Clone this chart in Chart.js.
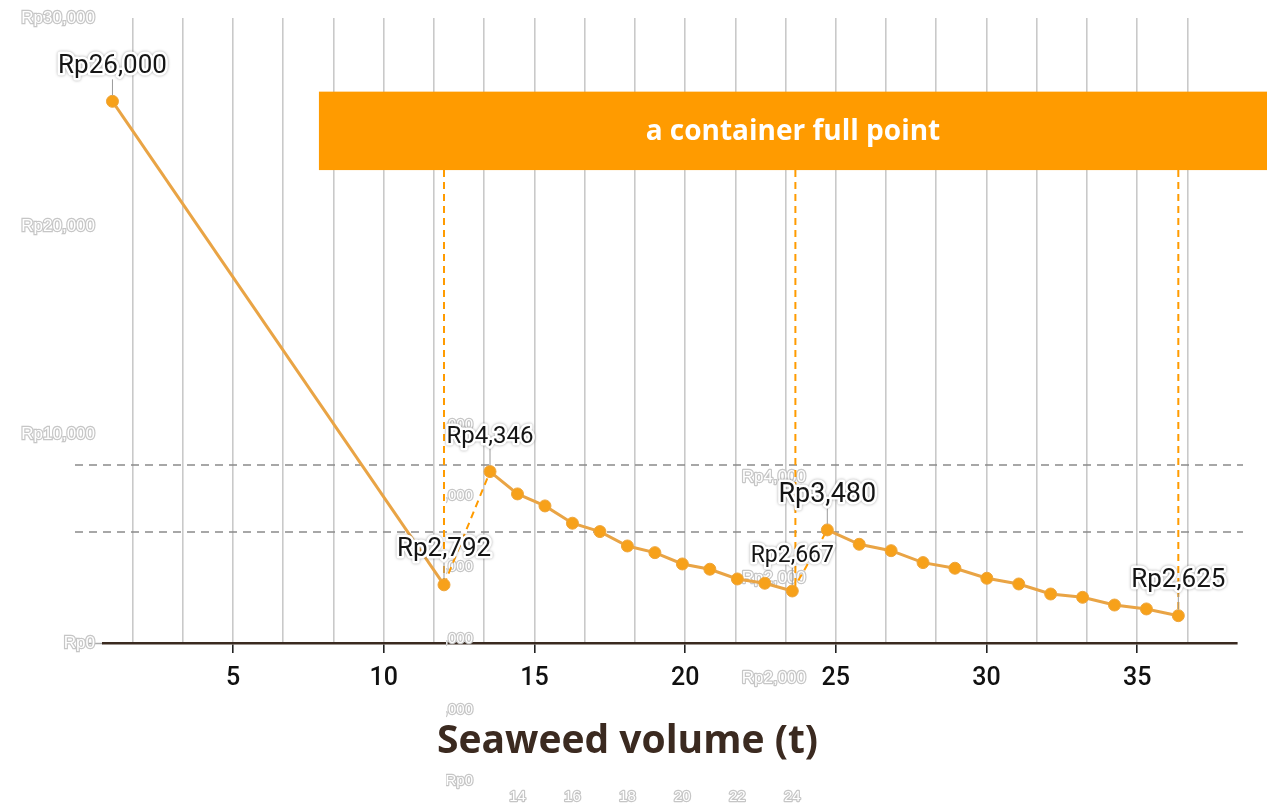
<!DOCTYPE html>
<html><head><meta charset="utf-8">
<script src="https://cdn.jsdelivr.net/npm/chart.js@4.4.1/dist/chart.umd.min.js"></script>
<style>html,body{margin:0;padding:0;background:#fff;}#wrap{width:1267px;height:803px;}</style>
</head><body><div id="wrap"><canvas id="c" width="1267" height="803"></canvas></div>
<script>
// ---------- data ----------
const firstVolumes = [1, 12];
const firstCosts = [26000, 2792];
const secondVolumes = [13, 14, 15, 16, 17, 18, 19, 20, 21, 22, 23, 24];
const secondCosts = [4346, 4032, 3863, 3620, 3502, 3300, 3206, 3047, 2973, 2836, 2776, 2667];
const thirdVolumes = [25, 26, 27, 28, 29, 30, 31, 32, 33, 34, 35, 36];
const thirdCosts = [3480, 3337, 3273, 3154, 3098, 2998, 2941, 2841, 2808, 2731, 2692, 2625];
const containerFullVolumes = [12, 24, 36];
const mainXTickEvery = 5;
const mainYTicks = [0, 10000, 20000, 30000];
const secondYTicks = [0, 1000, 2000, 3000, 4000, 5000];
const secondXTicks = [14, 16, 18, 20, 22, 24];
const thirdYTicks = [2000, 4000];
const extraGhostYTicks = [2000];
const referenceCosts = [4440, 3495];
const bannerText = 'a container full point';
const axisTitle = 'Seaweed volume (t)';

const rp = v => 'Rp' + Math.round(v).toLocaleString('en-US');
const pts = (xs, ys) => xs.map((x, i) => ({x, y: ys[i]}));

const ORANGE = '#ff9b00';
const LINE = '#e9a445';
const PT = '#f7a11a';
const GHOST = '#c6c6c6';

function ghost(ctx, text, x, y, align, size) {
  ctx.save();
  ctx.font = size + 'px "Liberation Sans", Arial, sans-serif';
  ctx.textAlign = align; ctx.textBaseline = 'middle';
  ctx.lineJoin = 'round';
  ctx.lineWidth = 2.4; ctx.strokeStyle = GHOST;
  ctx.strokeText(text, x, y);
  ctx.fillStyle = '#fff';
  ctx.fillText(text, x, y);
  ctx.restore();
}

const overlay = {
  id: 'overlay',
  beforeDatasetsDraw(chart) {
    const {ctx, scales: s, chartArea: a} = chart;
    // reference dashed lines
    ctx.save();
    ctx.strokeStyle = '#8a8a8a'; ctx.lineWidth = 1.5; ctx.setLineDash([8, 6]);
    referenceCosts.forEach(v => {
      const y = s.y2.getPixelForValue(v);
      ctx.beginPath(); ctx.moveTo(a.left - 28, y); ctx.lineTo(a.right + 6, y); ctx.stroke();
    });
    ctx.restore();
    // ghost labels of the zoomed segments
    ctx.save();
    ctx.beginPath(); ctx.rect(446, 0, chart.width, chart.height); ctx.clip();
    secondYTicks.forEach(v => ghost(ctx, rp(v), 473, s.y2.getPixelForValue(v), 'right', 15));
    ctx.restore();
    secondXTicks.forEach(v => ghost(ctx, String(v), s.x2.getPixelForValue(v), 797, 'center', 15));
    thirdYTicks.forEach(v => ghost(ctx, rp(v), 806, s.y3.getPixelForValue(v), 'right', 17));
    extraGhostYTicks.forEach(v => ghost(ctx, rp(v), 806, s.y4.getPixelForValue(v), 'right', 17));
    // banner
    const bx0 = s.x.getPixelForValue(7.85), by0 = s.y.getPixelForValue(26465), by1 = s.y.getPixelForValue(22700);
    ctx.save();
    ctx.fillStyle = ORANGE;
    ctx.fillRect(bx0, by0, chart.width - bx0, by1 - by0);
    ctx.fillStyle = '#fff'; ctx.font = 'bold 28px "Open Sans", sans-serif';
    ctx.textAlign = 'center'; ctx.textBaseline = 'middle';
    ctx.fillText(bannerText, (bx0 + chart.width) / 2, (by0 + by1) / 2 + 1);
    ctx.restore();
    // container full vertical dashed lines
    const ends = [
      [s.x.getPixelForValue(containerFullVolumes[0]), s.y.getPixelForValue(firstCosts[1])],
      [s.x3.getPixelForValue(containerFullVolumes[1]), s.y2.getPixelForValue(secondCosts[11]) - 6],
      [s.x3.getPixelForValue(containerFullVolumes[2]), s.y3.getPixelForValue(thirdCosts[11])]
    ];
    ctx.save();
    ctx.strokeStyle = ORANGE; ctx.lineWidth = 2; ctx.setLineDash([7, 5]);
    ends.forEach(([x, y]) => { ctx.beginPath(); ctx.moveTo(x, by1); ctx.lineTo(x, y); ctx.stroke(); });
    // connectors between segments
    const m0 = chart.getDatasetMeta(0).data, m1 = chart.getDatasetMeta(1).data, m2 = chart.getDatasetMeta(2).data;
    [[m0[1], m1[0]], [m1[m1.length - 1], m2[0]]].forEach(([p, q]) => {
      ctx.beginPath(); ctx.moveTo(p.x, p.y); ctx.lineTo(q.x, q.y); ctx.stroke();
    });
    ctx.restore();
  },
  afterDatasetsDraw(chart) {
    const {ctx} = chart;
    const labels = [[0, 0, 26], [0, 1, 26], [1, 0, 24], [1, 11, 23], [2, 0, 27], [2, 11, 26]];
    labels.forEach(([d, i, size]) => {
      const el = chart.getDatasetMeta(d).data[i];
      const v = chart.data.datasets[d].data[i].y;
      const ty = el.y - 35;
      ctx.save();
      ctx.strokeStyle = '#9a9a9a'; ctx.lineWidth = 1;
      ctx.beginPath(); ctx.moveTo(el.x, ty + size * 0.5); ctx.lineTo(el.x, el.y - 6); ctx.stroke();
      ctx.font = size + 'px Roboto, sans-serif';
      ctx.textAlign = 'center'; ctx.textBaseline = 'middle';
      ctx.lineJoin = 'round';
      ctx.shadowColor = 'rgba(0,0,0,0.35)'; ctx.shadowBlur = 3;
      ctx.strokeStyle = '#fff'; ctx.lineWidth = 5;
      ctx.strokeText(rp(v), el.x, ty);
      ctx.shadowColor = 'transparent';
      ctx.fillStyle = '#151515';
      ctx.fillText(rp(v), el.x, ty);
      ctx.restore();
    });
  },
  afterDraw(chart) {
    const {ctx} = chart;
    ctx.save();
    ctx.fillStyle = '#3b2a20'; ctx.font = 'bold 39px "Open Sans", sans-serif';
    ctx.textAlign = 'center'; ctx.textBaseline = 'middle';
    ctx.fillText(axisTitle, chart.width / 2 - 6, 742);
    ctx.restore();
  }
};

const isMajor = v => Math.abs(v / mainXTickEvery - Math.round(v / mainXTickEvery)) < 1e-6;
const seg = (data, xAxisID, yAxisID) => ({
  data, xAxisID, yAxisID, borderColor: LINE, borderWidth: 3,
  pointRadius: 6, pointBackgroundColor: PT, pointBorderColor: '#eda53c', pointBorderWidth: 1,
  tension: 0
});

new Chart(document.getElementById('c'), {
  type: 'line',
  data: {
    datasets: [
      seg(pts(firstVolumes, firstCosts), 'x', 'y'),
      seg(pts(secondVolumes, secondCosts), 'x2', 'y2'),
      seg(pts(thirdVolumes, thirdCosts), 'x3', 'y3')
    ]
  },
  options: {
    responsive: false, animation: false, devicePixelRatio: 1,
    layout: {padding: {left: 0, right: 30, top: 18, bottom: 0}},
    plugins: {legend: {display: false}, tooltip: {enabled: false}},
    scales: {
      x: {
        type: 'linear', position: 'bottom', min: 0.686, max: 38.31,
        afterFit: sc => { sc.height = 160; },
        ticks: {
          stepSize: 5 / 3, includeBounds: false, autoSkip: false, maxRotation: 0,
          maxTicksLimit: 100,
          callback: v => isMajor(v) ? String(Math.round(v)) : '',
          color: '#111111', font: {family: 'Roboto', size: 25, weight: '500'}, padding: 11
        },
        grid: {
          color: '#c9c9c9', lineWidth: 1.6, tickLength: 10, tickWidth: 1.6,
          tickColor: c => (c.tick && isMajor(c.tick.value)) ? '#222' : 'rgba(0,0,0,0)'
        },
        border: {color: '#3a2a20', width: 2.5}
      },
      y: {
        type: 'linear', position: 'left', min: 0, max: 30000,
        afterFit: sc => { sc.width = 103; },
        afterBuildTicks: sc => { sc.ticks = mainYTicks.map(v => ({value: v})); },
        ticks: {
          callback: v => rp(v), color: '#ffffff', textStrokeColor: GHOST, textStrokeWidth: 2.4,
          font: {family: '"Liberation Sans"', size: 17}, padding: -10
        },
        grid: {
          drawOnChartArea: false, tickLength: 18, tickWidth: 1.5,
          tickColor: c => (c.tick && c.tick.value === 0) ? '#aaaaaa' : 'rgba(0,0,0,0)'
        },
        border: {display: false}
      },
      x2: {type: 'linear', display: false, min: -1.083, max: 40.183},
      y2: {type: 'linear', display: false, min: 1935.4, max: 10725},
      x3: {type: 'linear', display: false, min: 2.302, max: 37.839},
      y3: {type: 'linear', display: false, min: 2352.3, max: 8585.8},
      y4: {type: 'linear', display: false, min: 700, max: 13192}
    }
  },
  plugins: [overlay]
});
</script>
</body></html>
